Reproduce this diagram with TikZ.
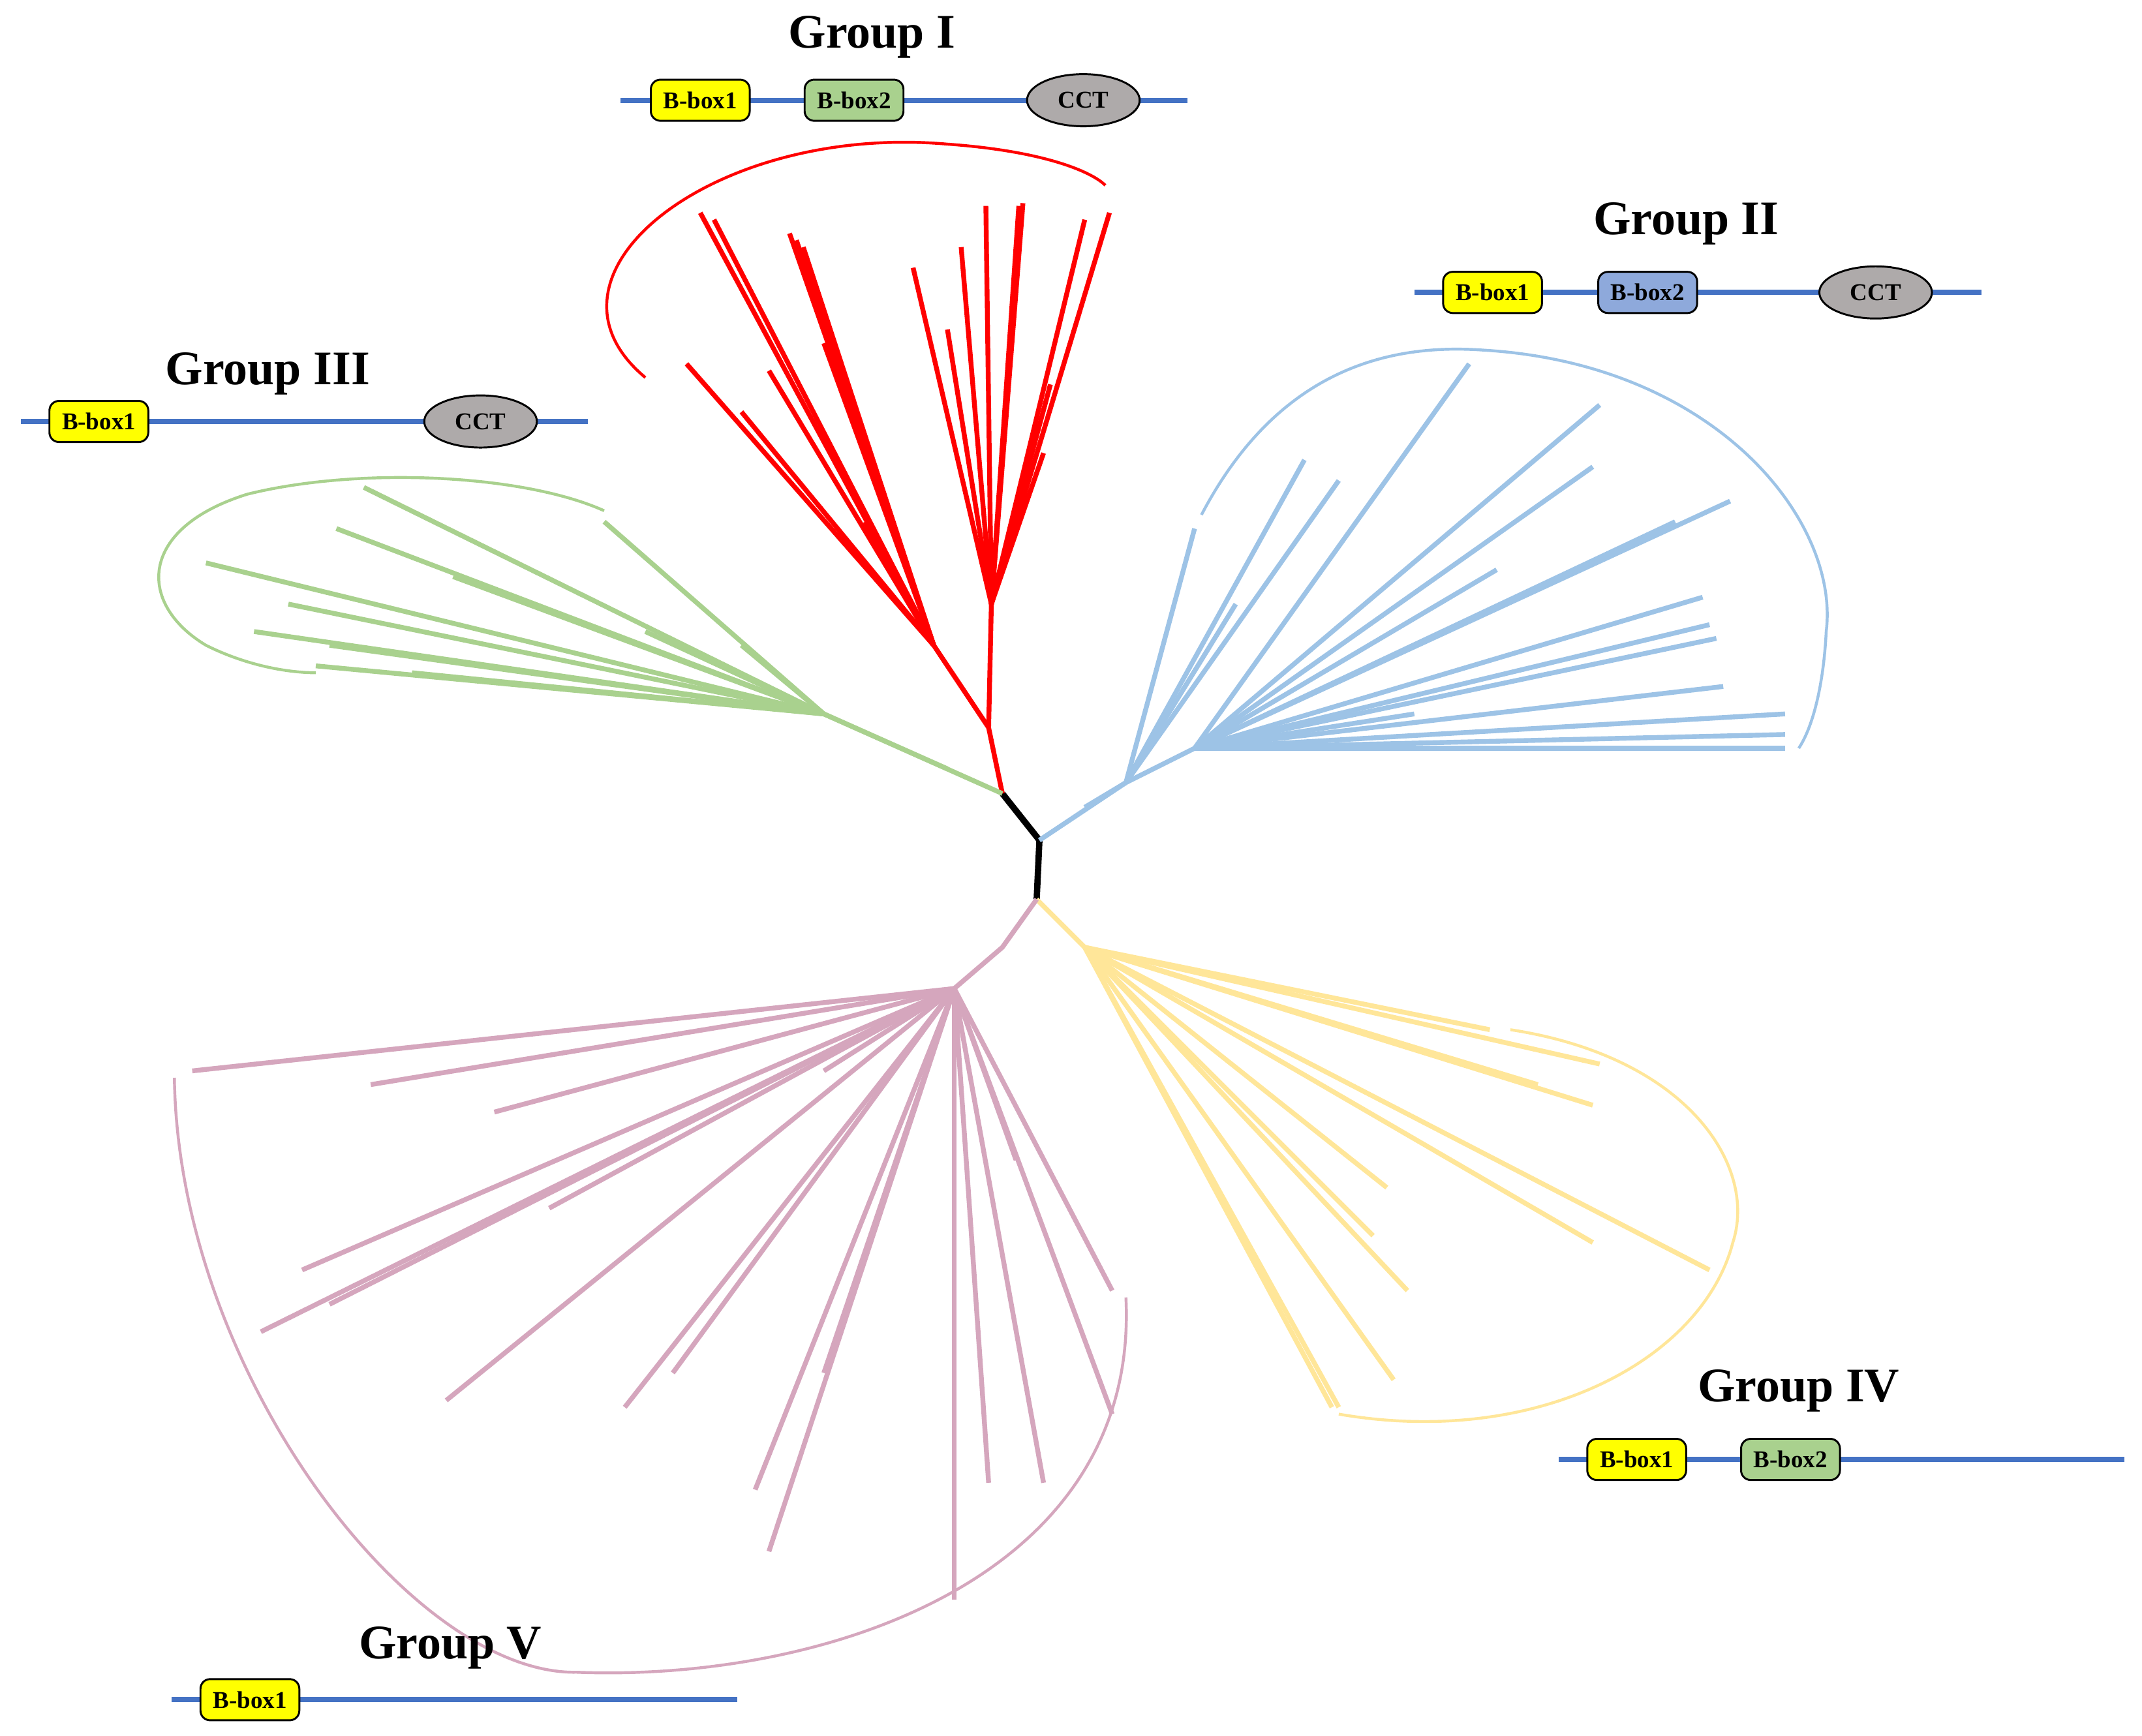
\documentclass[tikz,border=0pt]{standalone}
\usepackage{fontspec}
\setmainfont{Liberation Serif}
\usetikzlibrary{shapes.geometric}
\definecolor{cI}{HTML}{FF0000}
\definecolor{cII}{HTML}{9DC3E6}
\definecolor{cIII}{HTML}{A9D18E}
\definecolor{cIV}{HTML}{FFE699}
\definecolor{cV}{HTML}{D5A6BD}
\definecolor{bar}{HTML}{4472C4}
\definecolor{bya}{HTML}{FFFF00}
\definecolor{bgr}{HTML}{A9D18E}
\definecolor{bbl}{HTML}{8EA9DB}
\definecolor{cct}{HTML}{AEAAAA}
\begin{document}
\begin{tikzpicture}[x=0.1mm,y=-0.1mm,
  br/.style={line width=1.0pt},
  arc/.style={line width=0.6pt},
  bb/.style={line width=1.1pt,bar},
  dom/.style={draw=black,line width=0.4pt,rounded corners=2pt,minimum width=7.2mm,minimum height=3mm,inner sep=0pt,font=\fontsize{5}{5}\selectfont\bfseries},
  cctn/.style={ellipse,draw=black,line width=0.4pt,fill=cct,minimum width=8.2mm,minimum height=3.8mm,inner sep=0pt,font=\fontsize{5}{5}\selectfont\bfseries},
  ttl/.style={font=\fontsize{10}{10}\selectfont\bfseries}]
\useasboundingbox (0,0) rectangle (1560,1264);
% root
\draw[line width=1.3pt] (730,578) -- (757,612) -- (755,655);
% Group I
\draw[br,cI] (730,578)--(720,530)--(722,440) (720,530)--(680,470);
\foreach \p in {(510,155),(500,265),(575,170),(585,180),(560,270),(540,300),(600,250),(630,380),(520,160),(580,175)} \draw[br,cI] (680,470)--\p;
\foreach \p in {(665,195),(690,240),(700,180),(718,150),(745,148),(740,200),(790,160),(808,155),(765,280),(760,330),(742,150)} \draw[br,cI] (722,440)--\p;
\draw[arc,cI] (470,275) .. controls (380,200) and (520,90) .. (690,105) .. controls (760,110) and (795,125) .. (805,135);
% Group II
\draw[br,cII] (757,612)--(820,570)--(870,545);
\foreach \p in {(1070,265),(1165,295),(1260,365),(1240,435),(1245,455),(1250,465),(1255,500),(1300,520),(1300,545),(1030,520),(1220,380),(1090,415),(1160,340),(1300,535)} \draw[br,cII] (870,545)--\p;
\foreach \p in {(950,335),(975,350),(870,385),(790,588),(900,440)} \draw[br,cII] (820,570)--\p;
\draw[arc,cII] (875,375) .. controls (930,270) and (1010,250) .. (1080,255) .. controls (1250,265) and (1340,380) .. (1330,460) .. controls (1328,500) and (1320,530) .. (1310,545);
% Group III
\draw[br,cIII] (730,578)--(600,520);
\foreach \p in {(265,355),(150,410),(185,460),(230,485),(245,385),(440,380),(470,460),(690,560),(540,470),(330,420),(210,440),(240,470),(300,490)} \draw[br,cIII] (600,520)--\p;
\draw[arc,cIII] (440,372) .. controls (380,345) and (260,340) .. (180,360) .. controls (100,385) and (100,440) .. (150,470) .. controls (180,485) and (210,490) .. (230,490);
% Group IV
\draw[br,cIV] (755,655)--(790,690);
\foreach \p in {(1165,775),(1085,750),(1160,805),(1160,905),(1245,925),(1010,865),(1025,940),(1015,1005),(970,1025),(975,1025),(1120,790),(1000,900)} \draw[br,cIV] (790,690)--\p;
\draw[arc,cIV] (1100,750) .. controls (1230,770) and (1280,850) .. (1262,905) .. controls (1240,990) and (1120,1055) .. (975,1030);
% Group V
\draw[br,cV] (755,655)--(730,690)--(695,720);
\foreach \p in {(140,780),(270,790),(360,810),(220,925),(190,970),(325,1020),(455,1025),(490,1000),(550,1085),(560,1130),(695,1165),(720,1080),(760,1080),(810,1030),(810,940),(740,845),(600,780),(400,880),(240,950),(600,1000)} \draw[br,cV] (695,720)--\p;
\draw[arc,cV] (127,785) .. controls (130,1000) and (300,1220) .. (420,1218) .. controls (600,1225) and (830,1150) .. (820,945);
% Domain bars
\draw[bb] (452,73)--(865,73);
\node[dom,fill=bya] (i1) at (510,73) {B-box1};
\node[dom,fill=bgr] (i2) at (622,73) {B-box2};
\node[cctn] (i3) at (789,73) {CCT};
\node[ttl] (ti) at (635,27) {Group I};
\draw[bb] (1030,213)--(1443,213);
\node[dom,fill=bya] (ii1) at (1087,213) {B-box1};
\node[dom,fill=bbl] (ii2) at (1200,213) {B-box2};
\node[cctn] (ii3) at (1366,213) {CCT};
\node[ttl] (tii) at (1228,163) {Group II};
\draw[bb] (15,307)--(428,307);
\node[dom,fill=bya] (iii1) at (72,307) {B-box1};
\node[cctn] (iii3) at (350,307) {CCT};
\node[ttl] (tiii) at (195,272) {Group III};
\draw[bb] (1135,1063)--(1547,1063);
\node[dom,fill=bya] (iv1) at (1192,1063) {B-box1};
\node[dom,fill=bgr] (iv2) at (1304,1063) {B-box2};
\node[ttl] (tiv) at (1310,1013) {Group IV};
\draw[bb] (125,1238)--(537,1238);
\node[dom,fill=bya] (v1) at (182,1238) {B-box1};
\node[ttl] (tv) at (328,1200) {Group V};
\end{tikzpicture}
\end{document}
